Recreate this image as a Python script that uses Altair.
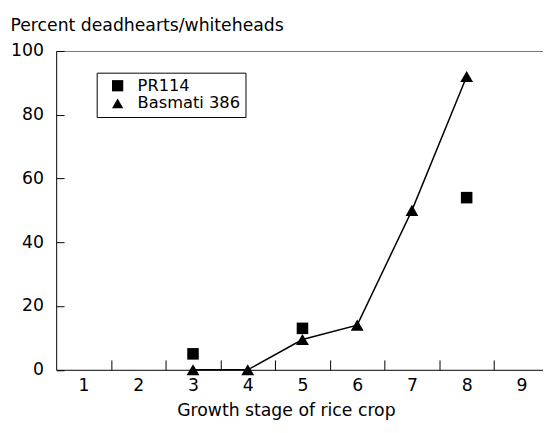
import altair as alt
import pandas as pd

FONT = "DejaVu Sans"

varieties = ["PR114", "Basmati 386"]
pr114_stage = [3, 5, 8]
pr114_pct = [5, 13, 54]
basmati_stage = [3, 4, 5, 6, 7, 8]
basmati_pct = [0, 0, 9.5, 14, 50, 92]
x_label_values = [1, 2, 3, 4, 5, 6, 7, 8, 9]
y_tick_values = [0, 20, 40, 60, 80, 100]

df = pd.DataFrame({
    "stage": pr114_stage + basmati_stage,
    "pct": pr114_pct + basmati_pct,
    "variety": [varieties[0]] * len(pr114_stage) + [varieties[1]] * len(basmati_stage),
})

W = 494
H = 323.5
X_MAX = 9.395
STEP = W / (X_MAX - 0.5)
LEFT = 48.9

x_enc = alt.X(
    "stage:Q",
    scale=alt.Scale(domain=[0.5, X_MAX], nice=False, zero=False),
    axis=alt.Axis(
        values=x_label_values,
        title="Growth stage of rice crop",
        tickSize={"expr": "-10"},
        tickOffset=STEP / 2,
        labelOffset=-STEP / 2,
        labelPadding=17,
        tickColor="black",
        domainColor="black",
        labelFont=FONT,
        labelFontSize=17.5,
        labelColor="black",
        titleFont=FONT,
        titleFontSize=17.5,
        titleFontWeight="normal",
        titleColor="black",
        titleX=290 - 8 - LEFT,
        titleY=46,
        titleAlign="center",
        titleBaseline="alphabetic",
        grid=False,
    ),
)

y_enc = alt.Y(
    "pct:Q",
    scale=alt.Scale(domain=[0, 100], nice=False),
    axis=alt.Axis(
        values=y_tick_values,
        title="Percent deadhearts/whiteheads",
        tickSize={"expr": "-8"},
        labelPadding=21,
        tickColor="black",
        domainColor="black",
        labelFont=FONT,
        labelFontSize=17.5,
        labelColor="black",
        titleFont=FONT,
        titleFontSize=17.5,
        titleFontWeight="normal",
        titleColor="black",
        titleAngle=0,
        titleAlign="left",
        titleBaseline="alphabetic",
        titleX=10 - 8 - LEFT,
        titleY=-20.5,
        grid=True,
        gridColor=alt.condition("datum.value == 100", alt.value("#777777"), alt.value("transparent")),
    ),
)

line = alt.Chart(df).transform_filter(
    alt.datum.variety == varieties[1]
).mark_line(color="black", strokeWidth=1.5).encode(
    x=x_enc, y=y_enc, order="stage:Q"
)

points = alt.Chart(df).mark_point(filled=True, opacity=1, color="black", strokeWidth=0).encode(
    x=x_enc,
    y=y_enc,
    shape=alt.Shape(
        "variety:N",
        scale=alt.Scale(domain=varieties, range=["square", "triangle-up"]),
        legend=alt.Legend(
            title=None,
            orient="none",
            legendX=98 - 8 - LEFT,
            legendY=70.5 - 48.5,
            strokeColor="black",
            fillColor="white",
            padding=5,
            symbolOffset=8,
            labelFont=FONT,
            labelFontSize=16.5,
            labelColor="black",
            labelOffset=12,
            rowPadding=1,
            symbolSize=130,
            symbolFillColor="black",
            symbolStrokeWidth=0,
        ),
    ),
    size=alt.condition(alt.datum.variety == varieties[0], alt.value(137), alt.value(170)),
)

chart = alt.layer(line, points).properties(
    width=W,
    height=H,
    autosize=alt.AutoSizeParams(type="none"),
    padding={"left": LEFT, "top": 40.5, "right": 0, "bottom": 61},
).configure_view(stroke=None)

chart.save("out.html", embed_options={"renderer": "svg", "actions": False})
